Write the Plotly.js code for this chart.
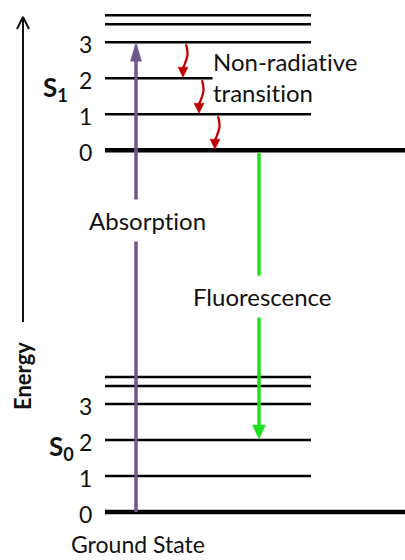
<!DOCTYPE html>
<html><head><meta charset="utf-8">
<script src="https://cdn.plot.ly/plotly-3.0.1.min.js"></script>
<style>html,body{margin:0;padding:0;background:#fff}#c{width:405px;height:560px}
svg text{font-variant-ligatures:none !important;font-feature-settings:"liga" 0,"clig" 0 !important}</style>
</head><body><div id="c"></div>
<script>
// Vibrational levels (in level units) for each electronic state
const levelValues = [0, 1, 2, 3, 3.5, 3.75];
const levelLabels = ['0', '1', '2', '3'];
const stateNames = ['S<sub>0</sub>', 'S<sub>1</sub>'];
const stateOffsets = [0, 10.05];
const transitionNames = ['Absorption', 'Fluorescence', 'Non-radiative<br>transition'];
// absorption: S0 v=0 -> S1 v=3 ; fluorescence: S1 v=0 -> S0 v=2
const absorption = {from: [0, 0], to: [1, 3]};
const fluorescence = {from: [1, 0], to: [0, 2]};
const nonRadiative = [[3, 2], [2, 1], [1, 0]];

const PX = 1 / 36; // one pixel in energy units
const E = (s, v) => stateOffsets[s] + v;
const FONT = 'Lato, "Open Sans", sans-serif';
const xL = 105, xR = 311, xFar = 405;
const traces = [];

// Levels
stateOffsets.forEach((off, s) => {
  levelValues.forEach(v => {
    const y = off + v;
    traces.push({x: [xL, v === 0 ? xFar : xR], y: [y, y], mode: 'lines', hoverinfo: 'skip',
      line: {color: '#000', width: v === 0 ? 4.5 : 2.5}, showlegend: false});
  });
});

function arrowHead(xt, yt, w, h, dir, color) {
  // dir = +1 for upward-pointing, -1 for downward-pointing
  const yb = yt - dir * h * PX;
  traces.push({x: [xt - w / 2, xt, xt + w / 2, xt - w / 2], y: [yb, yt, yb, yb], mode: 'lines',
    fill: 'toself', fillcolor: color, line: {color: color, width: 0.5}, hoverinfo: 'skip', showlegend: false});
  return yb;
}

// Absorption arrow
(() => {
  const c = '#6e578f', x = 136;
  const y0 = E(absorption.from[0], absorption.from[1]), yt = E(absorption.to[0], absorption.to[1]);
  const yb = arrowHead(x, yt, 11, 19, 1, c);
  traces.push({x: [x, x], y: [y0, yb + 2 * PX], mode: 'lines', line: {color: c, width: 3.5}, hoverinfo: 'skip', showlegend: false});
})();
// Fluorescence arrow
(() => {
  const c = '#1fe01f', x = 259;
  const y0 = E(fluorescence.from[0], fluorescence.from[1]) - 3 * PX, yt = E(fluorescence.to[0], fluorescence.to[1]) + 1 * PX;
  const yb = arrowHead(x, yt, 13, 14, -1, c);
  traces.push({x: [x, x], y: [y0, yb - 2 * PX], mode: 'lines', line: {color: c, width: 3.5}, hoverinfo: 'skip', showlegend: false});
})();
// Non-radiative arrows (slightly wavy)
const nrX = [185, 201, 217];
nonRadiative.forEach((p, i) => {
  const c = '#c00000';
  const x0 = nrX[i] + 1, xt = nrX[i] - 2;
  const y0 = E(1, p[0]) - 2 * PX, yt = E(1, p[1]) + 1 * PX;
  const yb = arrowHead(xt, yt, 10, 10, -1, c);
  const ym = y0 - 0.45 * (y0 - yb);
  traces.push({x: [x0, x0 + 1.5, xt], y: [y0, ym, yb - 1 * PX], mode: 'lines',
    line: {color: c, width: 2.3, shape: 'spline'}, hoverinfo: 'skip', showlegend: false});
});
// Energy axis arrow
(() => {
  const x = 23, yTip = (512 - 17) * PX, yTail = (512 - 322) * PX;
  traces.push({x: [x, x], y: [yTail, yTip - 1 * PX], mode: 'lines', line: {color: '#111', width: 2}, hoverinfo: 'skip', showlegend: false});
  traces.push({x: [x - 6, x, x + 6], y: [yTip - 12 * PX, yTip, yTip - 12 * PX], mode: 'lines',
    line: {color: '#111', width: 2}, hoverinfo: 'skip', showlegend: false});
})();

const ann = [];
const txt = (size) => ({family: FONT, size: size, color: '#111'});
// Labels over arrows
ann.push({x: 147, y: (512 - 220) * PX, xref: 'x', yref: 'y', text: transitionNames[0], showarrow: false,
  bgcolor: '#fff', borderpad: 6, font: txt(24)});
ann.push({x: 262, y: (512 - 296) * PX, xref: 'x', yref: 'y', text: transitionNames[1], showarrow: false,
  bgcolor: '#fff', borderpad: 6, font: txt(24)});
ann.push({x: 212, y: (512 - 77) * PX, xref: 'x', yref: 'y', xanchor: 'left', align: 'left',
  text: transitionNames[2], showarrow: false, bgcolor: '#fff', borderpad: 0, font: txt(24)});
// Level number labels
stateOffsets.forEach((off, s) => {
  levelLabels.forEach((t, i) => {
    ann.push({x: 94, y: off + levelValues[i] - 1.5 * PX, xref: 'x', yref: 'y', xanchor: 'right', text: t,
      showarrow: false, font: txt(23)});
  });
});
// State names
ann.push({x: 55, y: E(1, 1.72), xref: 'x', yref: 'y', text: '<b>' + stateNames[1] + '</b>', showarrow: false, font: txt(26)});
ann.push({x: 61, y: E(0, 1.8), xref: 'x', yref: 'y', text: '<b>' + stateNames[0] + '</b>', showarrow: false, font: txt(26)});
// Energy label
ann.push({x: 22, y: (512 - 376) * PX, xref: 'x', yref: 'y', text: '<b>Energy</b>', textangle: -90, showarrow: false, font: txt(22)});
// Ground state
ann.push({x: 138, y: (512 - 544) * PX, xref: 'x', yref: 'y', text: 'Ground State', showarrow: false, font: txt(23)});

Plotly.newPlot('c', traces, {
  width: 405, height: 560, margin: {l: 0, r: 0, t: 0, b: 0},
  paper_bgcolor: '#fff', plot_bgcolor: '#fff', showlegend: false,
  xaxis: {range: [0, 405], visible: false, fixedrange: true},
  yaxis: {range: [-48 * PX, 512 * PX], visible: false, fixedrange: true},
  annotations: ann
}, {staticPlot: true});
</script></body></html>
